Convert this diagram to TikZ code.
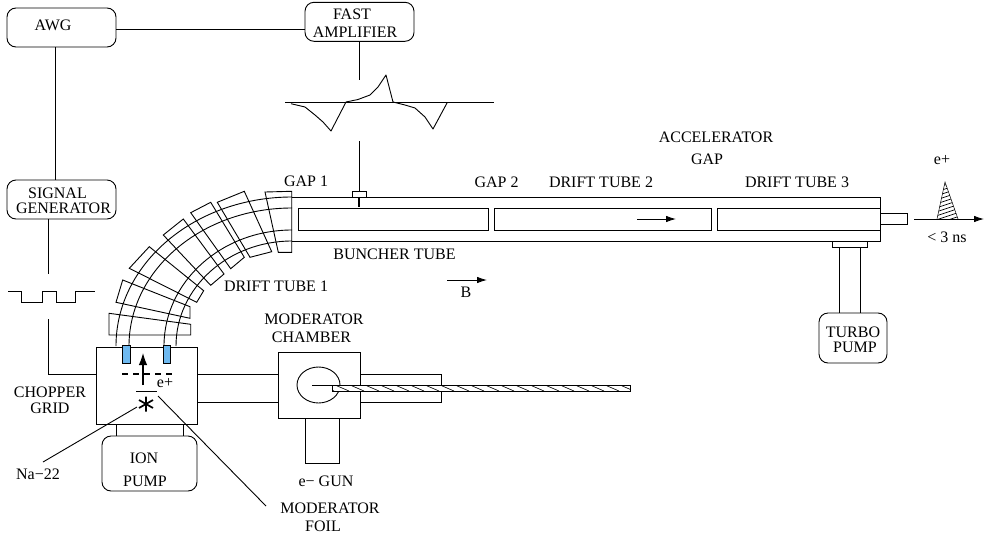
\documentclass[tikz,border=0pt]{standalone}
\usepackage{fontspec}
\setmainfont{Liberation Serif}
\usetikzlibrary{arrows.meta}
\definecolor{foilblue}{RGB}{110,185,240}
\tikzset{
  lbl/.style={inner sep=0pt,font=\fontsize{16}{17}\selectfont,align=center},
  rbox/.style={draw,rounded corners=9pt,line width=.9pt,inner sep=0pt},
  part/.style={draw,line width=.9pt},
  ln/.style={draw,line width=.9pt},
  tip/.style={-{Latex[length=10pt,width=6.5pt]}}
}
\begin{document}
\begin{tikzpicture}[x=1pt,y=-1pt]
\useasboundingbox (0,0) rectangle (984,538);
\fill[white] (0,0) rectangle (984,538);
% boxes
\node[rbox,minimum width=109pt,minimum height=39pt] (awg) at (61.5,27.5) {};
\node[rbox,minimum width=109pt,minimum height=39pt] (amp) at (359.5,21.8) {};
\node[rbox,minimum width=109pt,minimum height=39pt] (sig) at (61.5,199.5) {};
\node[rbox,minimum width=68pt,minimum height=50pt] (turbo) at (853,338) {};
\node[rbox,minimum width=95pt,minimum height=55pt] (ion) at (149.5,463.5) {};
\node[lbl] at (53,25) {AWG};
\node[lbl] at (352,14) {FAST};
\node[lbl] at (355,32) {AMPLIFIER};
\node[lbl] at (57.5,193) {SIGNAL};
\node[lbl] at (63.5,208) {GENERATOR};
\node[lbl] at (853,332) {TURBO};
\node[lbl] at (855,347) {PUMP};
\node[lbl] at (144,458) {ION};
\node[lbl] at (145,481) {PUMP};
% connectors
\draw[ln] (awg.east |- 0,29.5) -- (amp.west |- 0,29.5);
\draw[ln] (55,47) -- (sig.north -| 55,0);
\draw[ln] (48,219) -- (48,274);
\coordinate (c1) at (96,374);
\draw[ln] (48,319) -- (48,374) -- (c1);
\draw[ln] (359,41) -- (359,80);
\draw[ln] (359,141) -- (359,191);
% square wave
\draw[ln] (8,291) -- (21,291) -- (21,302) -- (42,302) -- (42,291) -- (56,291) -- (56,302) -- (75,302) -- (75,291) -- (95,291);
% fast waveform
\draw[ln] (285,102) -- (494,102);
\draw[ln,line join=round] (291,103.7) -- (305,107) -- (315,115) -- (323,122) -- (331,131) -- (346,102) -- (358,99.5) -- (370,95) -- (378,87) -- (386,75) -- (393,102) -- (405,105) -- (415,108) -- (425,117) -- (433,129) -- (447,103);
% curved section
\foreach \rx/\ry in {176/149,163/138,128/116,116/105}{
  \draw[ln] (292-\rx,346) arc[start angle=180,end angle=90,x radius=\rx,y radius=-\ry];
}
\draw[part] (109,313.3) -- (109,335) -- (190.7,335) -- (190.7,324.3) -- cycle;
\draw[part] (122.7,280) -- (116,302.3) -- (190,318.3) -- (190,306.7) -- cycle;
\draw[part] (149.3,246.7) -- (129.3,268.3) -- (196.7,302.3) -- (203.7,290.7) -- cycle;
\draw[part] (183.3,219) -- (163.3,235) -- (210.7,285.3) -- (224,274) -- cycle;
\draw[part] (210.7,202.3) -- (190.7,212.7) -- (230.7,268.7) -- (244.3,257.3) -- cycle;
\draw[part] (244.3,191.3) -- (217.3,202.3) -- (250,257.3) -- (271.7,251.7) -- cycle;
\draw[part] (291.7,191.3) -- (265,192) -- (278.3,252.3) -- (291.7,252.3) -- cycle;
% main tube
\draw[part] (292,197) -- (880,197) -- (880,241) -- (292,241);
\draw[part] (880,208) -- (717,208) -- (717,230) -- (880,230);
\draw[part] (298,208) rectangle (488,230);
\draw[part] (494,208) rectangle (711,230);
\draw[part] (880,213) rectangle (907,224);
\draw[part] (352,191) rectangle (366.5,197);
\draw[line width=1.8pt] (359,197) -- (359,207);
\draw[ln,tip] (637,219) -- (676,219);
\draw[ln,tip] (447,280) -- (487,280);
% turbo
\draw[part] (832,241) rectangle (867,247);
\draw[part] (839,247) -- (839,313);
\draw[part] (860,247) -- (860,313);
% exit
\draw[ln,tip] (914,219) -- (984,219);
\begin{scope}
\clip (937,219) -- (945,182) -- (958,219) -- cycle;
\foreach \y in {186,190,...,226}{
  \draw[line width=.7pt] (930,\y) -- (960,\y-10);
}
\end{scope}
\draw[line width=.5pt] (937,219) -- (945,182) -- (958,219);
% chopper
\node[part,minimum width=101pt,minimum height=77pt,inner sep=0pt] (chop) at (146.5,385.5) {};
\draw[part,fill=foilblue] (122.3,345) rectangle (130,363);
\draw[part,fill=foilblue] (163,345) rectangle (170,363);
\draw[line width=1.1pt,-{Latex[length=12pt,width=8.5pt]}] (143,385) -- (143,353);
\draw[line width=1.6pt,dash pattern=on 6pt off 5pt] (122,374) -- (172,374);
\draw[line width=1pt] (136,391) -- (157,391);
\draw[line width=1.7pt] (146,396.5) -- (146,411.5) (139,400) -- (153,408) (139,408) -- (153,400);
\node[lbl] at (165,383) {e+};
\draw[part] (197,374) -- (278,374);
\draw[part] (197,402) -- (278,402);
\draw[part] (116,424) -- (116,436);
\draw[part] (183,424) -- (183,436);
\draw[ln] (137,407) -- (43,462);
\draw[ln] (158,396) -- (266,506);
% moderator chamber
\draw[part] (278,352) rectangle (360,418.5);
\draw[part] (318.5,385) ellipse[x radius=21.5,y radius=18];
\draw[part] (360,374) -- (441,374) -- (441,402) -- (360,402);
\draw[part] (305,418.5) rectangle (339.5,463);
\fill[white] (332,385) rectangle (630,391);
\begin{scope}
\clip (332,385) rectangle (630,391);
\foreach \x in {320,335,...,630}{
  \draw[line width=.6pt] (\x,385) -- (\x+14,391);
}
\end{scope}
\draw[line width=.8pt] (332,385) rectangle (630,391);
\draw[ln] (312,385) -- (332,385);
% labels
\node[lbl] at (50,392) {CHOPPER};
\node[lbl] at (50,408) {GRID};
\node[lbl] at (38,474) {Na−22};
\node[lbl] at (314,319) {MODERATOR};
\node[lbl] at (311.5,337) {CHAMBER};
\node[lbl] at (330,508) {MODERATOR};
\node[lbl] at (323,526) {FOIL};
\node[lbl] at (326,481) {e− GUN};
\node[lbl] at (306,181) {GAP 1};
\node[lbl] at (496.5,182) {GAP 2};
\node[lbl] at (601,182) {DRIFT TUBE 2};
\node[lbl] at (797,182) {DRIFT TUBE 3};
\node[lbl] at (716,137) {ACCELERATOR};
\node[lbl] at (707,159) {GAP};
\node[lbl] at (394.5,254) {BUNCHER TUBE};
\node[lbl] at (466,292) {B};
\node[lbl] at (276,286) {DRIFT TUBE 1};
\node[lbl] at (942,160) {e+};
\node[lbl] at (947,237) {< 3 ns};
\end{tikzpicture}
\end{document}
